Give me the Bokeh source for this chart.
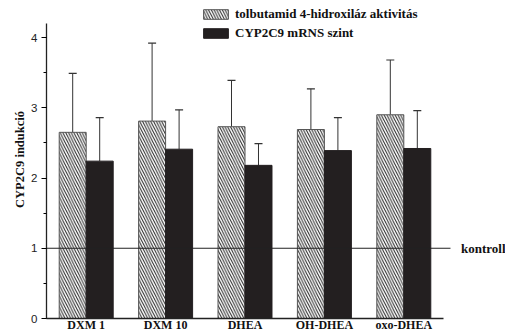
from bokeh.plotting import figure
from bokeh.models import (ColumnDataSource, Whisker, TeeHead, Legend, LegendItem,
                          FixedTicker, SingleIntervalTicker, Range1d)
from bokeh.core.properties import value
from bokeh.embed import file_html
from bokeh.resources import INLINE

categories = ["DXM 1", "DXM 10", "DHEA", "OH-DHEA", "oxo-DHEA"]
tolb_mean = [2.65, 2.81, 2.73, 2.69, 2.90]
tolb_err_top = [3.49, 3.92, 3.39, 3.27, 3.68]
mrna_mean = [2.24, 2.41, 2.18, 2.39, 2.42]
mrna_err_top = [2.86, 2.97, 2.49, 2.86, 2.96]
kontroll_level = 1
kontroll_label = "kontroll"

pos = list(range(1, len(categories) + 1))
bw = 0.34
x_t = [p_ - bw / 2 for p_ in pos]
x_m = [p_ + bw / 2 for p_ in pos]

serif = "Liberation Serif"
sans = "Liberation Sans"

PX_X = 79.4   # pixels per category unit
PX_Y = 70.25  # pixels per y unit
FW, FH = 459, 318

p = figure(output_backend="svg", toolbar_location=None,
           frame_width=FW, frame_height=FH,
           min_border_left=46, min_border_top=0, min_border_right=0,
           min_border_bottom=8,
           x_range=Range1d(0.5, 0.5 + FW / PX_X), y_range=Range1d(0, FH / PX_Y))
p.outline_line_color = None
p.grid.visible = False
p.background_fill_color = None
p.border_fill_color = "white"

src_t = ColumnDataSource(dict(x=x_t, top=tolb_mean, up=tolb_err_top))
src_m = ColumnDataSource(dict(x=x_m, top=mrna_mean, up=mrna_err_top))

r_t = p.vbar(x="x", top="top", bottom=0, width=bw, source=src_t,
             fill_color="white", line_color="#555555", line_width=1,
             hatch_pattern="\\", hatch_scale=5.5, hatch_weight=1, hatch_color="#222222")
r_m = p.vbar(x="x", top="top", bottom=0, width=bw, source=src_m,
             fill_color="#231f20", line_color="#231f20", line_width=1)

for src in (src_t, src_m):
    w = Whisker(source=src, base="x", lower="top", upper="up",
                line_color="#333333", line_width=1,
                upper_head=TeeHead(size=8, line_color="#333333", line_width=1.2),
                lower_head=None)
    p.add_layout(w)

# kontroll reference line and label
p.segment(x0=[0.5], x1=[5.588], y0=[kontroll_level], y1=[kontroll_level],
          line_color="#222222", line_width=1.2)
p.text(x=[5.72], y=[kontroll_level], text=[kontroll_label], text_font=value(serif),
       text_font_style="bold", text_font_size="13px",
       text_baseline="middle", text_color="#111111")

# x axis
p.xaxis.ticker = FixedTicker(ticks=pos)
p.xaxis.major_label_overrides = {pp: c for pp, c in zip(pos, categories)}
p.xaxis.bounds = (0.5, 5.5)
p.xaxis.major_tick_line_color = None
p.xaxis.minor_tick_line_color = None
p.xaxis.major_tick_out = 0
p.xaxis.major_tick_in = 0
p.xaxis.major_label_standoff = -1
p.xaxis.major_label_text_font = serif
p.xaxis.major_label_text_font_style = "bold"
p.xaxis.major_label_text_font_size = "12px"
p.xaxis.major_label_text_color = "#111111"
p.xaxis.axis_line_color = "#222222"
p.xaxis.axis_line_width = 1.3

# y axis
p.yaxis.ticker = SingleIntervalTicker(interval=1, num_minor_ticks=2)
p.yaxis.bounds = (0, 4.2)
p.yaxis.major_tick_out = 5
p.yaxis.major_tick_in = 0
p.yaxis.minor_tick_out = 3
p.yaxis.minor_tick_in = 0
p.yaxis.major_label_standoff = 4
p.yaxis.major_label_text_font = sans
p.yaxis.major_label_text_font_size = "11.5px"
p.yaxis.major_label_text_color = "#222222"
p.yaxis.axis_line_color = "#222222"
p.yaxis.axis_line_width = 1.3
p.yaxis.axis_label = "CYP2C9 indukció"
p.yaxis.axis_label_text_font = serif
p.yaxis.axis_label_text_font_style = "bold"
p.yaxis.axis_label_text_font_size = "12.5px"
p.yaxis.axis_label_text_color = "#111111"
p.yaxis.axis_label_standoff = 1

legend = Legend(items=[
    LegendItem(label="tolbutamid 4-hidroxiláz aktivitás", renderers=[r_t]),
    LegendItem(label="CYP2C9 mRNS szint", renderers=[r_m]),
], location=(154, 277))
legend.margin = 0
legend.padding = 0
legend.spacing = 3
legend.glyph_width = 31
legend.glyph_height = 12
legend.label_height = 12
legend.label_standoff = 4
legend.border_line_color = None
legend.background_fill_alpha = 0
legend.label_text_font = serif
legend.label_text_font_style = "bold"
legend.label_text_font_size = "13px"
legend.label_text_color = "#111111"
p.add_layout(legend, "center")

open("out.html", "w").write(file_html(p, INLINE))
